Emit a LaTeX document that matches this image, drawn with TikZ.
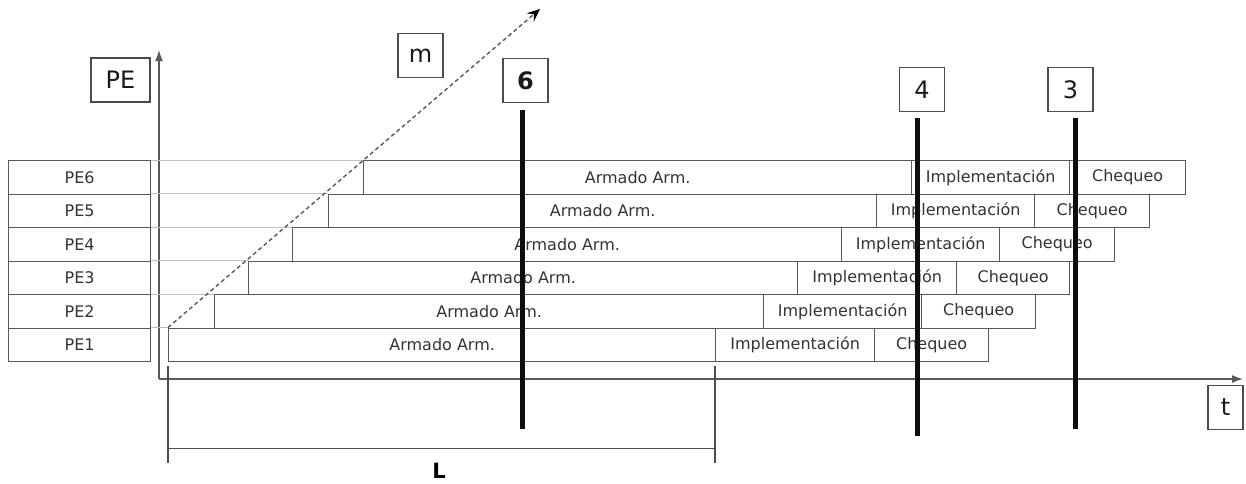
\documentclass[tikz,border=0pt]{standalone}
\usepackage{fontspec}
\setmainfont{DejaVu Sans}
\usetikzlibrary{arrows.meta}

\tikzset{
  bar/.style={draw=black!65, line width=1.3pt, minimum height=33.5pt, inner sep=0pt,
    anchor=north west, text=black!80, font=\fontsize{16}{18}\selectfont},
  tag/.style={draw=black!70, line width=1.3pt, minimum height=44pt, minimum width=45pt,
    inner sep=0pt, text=black!90, font=\fontsize{24}{26}\selectfont},
  axis/.style={draw=black!65, line width=1.5pt, -{Latex[length=11pt,width=8pt]}},
  marker/.style={line width=5pt, black!95},
  dim/.style={draw=black!70, line width=1.2pt},
}

\begin{document}
\begin{tikzpicture}[x=1pt,y=-1pt]
\useasboundingbox (0,0) rectangle (1246,483);
\coordinate (origin) at (159,379);
\coordinate (ytip) at (159,50);
\coordinate (xtip) at (1243,379);
\draw[axis] (origin) -- (ytip);
\draw[axis] (origin) -- (xtip);
\foreach \i/\s/\a/\b/\e in {1/168/715/874/988, 2/214/763/921/1035, 3/248/797/956/1069,
    4/292/841/999/1114, 5/328/876/1034/1149, 6/363/911/1069/1185}{
  \pgfmathsetmacro\rowy{361-\i*33.5}
  \pgfmathsetmacro\wa{\a-\s}
  \pgfmathsetmacro\wb{\b-\a}
  \pgfmathsetmacro\wc{\e-\b}
  \node[bar, minimum width=142pt] (lab\i) at (8,\rowy) {PE\i};
  \node[bar, minimum width=\wa pt] (arm\i) at (\s,\rowy) {Armado Arm.};
  \node[bar, minimum width=\wb pt] (imp\i) at (\a,\rowy) {Implementación};
  \node[bar, minimum width=\wc pt] (che\i) at (\b,\rowy) {Chequeo};
  \draw[black!25, line width=0.8pt] (lab\i.north east) -- (arm\i.north west);
}
\coordinate (mtip) at (540,9);
\draw[black!65, line width=1.4pt, dash pattern=on 4pt off 3pt,
  -{Stealth[length=13pt,width=11pt,inset=5pt,black]}] (arm1.north west) -- (mtip);

\node[tag, minimum width=59pt] (pe) at (120.5,80) {PE};
\node[tag] (m) at (420.5,55.5) {m};
\node[tag, font=\fontsize{24}{26}\selectfont\bfseries] (six) at (525.5,80.5) {6};
\node[tag] (four) at (922,89.5) {4};
\node[tag] (three) at (1070.5,89.5) {3};
\node[tag, minimum width=35pt] (t) at (1225.5,407.5) {t};

\coordinate (six top) at (522,110);
\coordinate (six end) at (522,429);
\coordinate (four top) at (917,118);
\coordinate (four end) at (917,436);
\coordinate (three top) at (1075,118);
\coordinate (three end) at (1075,429);
\draw[marker] (six top) -- (six end);
\draw[marker] (four top) -- (four end);
\draw[marker] (three top) -- (three end);

\draw[dim] ([yshift=-4pt]arm1.south west) -- ++(0,97);
\draw[dim] ([yshift=-4pt]imp1.south west) -- ++(0,97);
\draw[dim] ([yshift=-86pt]arm1.south west) -- ([yshift=-86pt]imp1.south west);
\node[font=\fontsize{21}{23}\selectfont\bfseries] (len) at (439,471) {L};
\end{tikzpicture}
\end{document}
